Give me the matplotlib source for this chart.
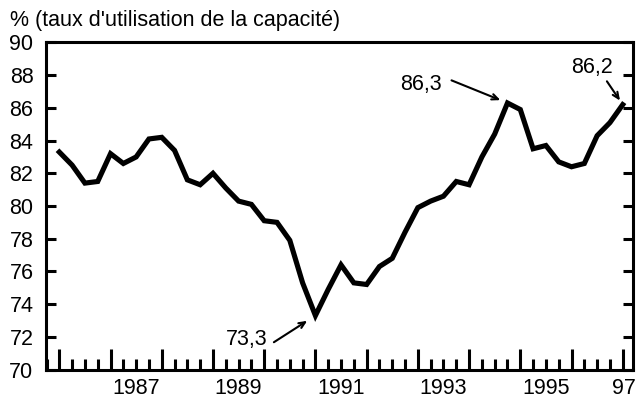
import matplotlib
matplotlib.use('Agg')
import matplotlib.pyplot as plt
from matplotlib.ticker import MultipleLocator
from matplotlib.transforms import blended_transform_factory

plt.rcParams['font.family'] = ['Liberation Sans', 'DejaVu Sans']

# Quarterly capacity utilisation, 1986Q1 - 1997Q1
start_year = 1986
values = [83.3, 82.5, 81.4, 81.5, 83.2, 82.6, 83.0, 84.1,
          84.2, 83.4, 81.6, 81.3, 82.0, 81.1, 80.3, 80.1,
          79.1, 79.0, 77.9, 75.3, 73.3, 74.9, 76.4, 75.3,
          75.2, 76.3, 76.8, 78.4, 79.9, 80.3, 80.6, 81.5,
          81.3, 83.0, 84.4, 86.3, 85.9, 83.5, 83.7, 82.7,
          82.4, 82.6, 84.3, 85.1, 86.2]
quarters = [start_year + i / 4 for i in range(len(values))]

year_labels = ['1987', '1989', '1991', '1993', '1995', '97']
year_label_pos = [1987.5, 1989.5, 1991.5, 1993.5, 1995.5, 1997.03]

# annotations: (index of point, label)
notes = [(20, '73,3'), (35, '86,3'), (44, '86,2')]

fs = 15.5

fig = plt.figure(figsize=(6.37, 4.15), dpi=100)
ax = fig.add_axes([0.0722, 0.1096, 0.9215, 0.788])

ax.plot(quarters, values, color='black', linewidth=3.7, solid_joinstyle='miter')

ax.set_xlim(1985.74, 1997.20)
ax.set_ylim(70, 90)

for s in ax.spines.values():
    s.set_linewidth(2.2)

ax.set_yticks(range(70, 91, 2))
ax.tick_params(axis='y', which='major', direction='in', length=7, width=2.2,
               left=True, right=True, labelsize=fs, pad=9)

ax.xaxis.set_major_locator(MultipleLocator(1))
ax.xaxis.set_minor_locator(MultipleLocator(0.25))
ax.tick_params(axis='x', which='major', direction='in', length=15, width=2.2, labelbottom=False)
ax.tick_params(axis='x', which='minor', direction='in', length=8, width=2.2)

trans = blended_transform_factory(ax.transData, ax.transAxes)
for pos, lab in zip(year_label_pos, year_labels):
    ax.text(pos, -0.026, lab, transform=trans, ha='center', va='top', fontsize=fs)

fig.text(10 / 637, 1 - 26 / 415, "% (taux d'utilisation de la capacité)",
         ha='left', va='baseline', fontsize=fs)

# annotation offsets in points: arrow start, text centre, shrink at the point
offsets = {'73,3': ((-29.9, -19.2), (-49.3, -17.3), 7),
           '86,3': ((-40.3, 16.3), (-62.0, 13.2), 5.5),
           '86,2': ((-11.4, 16.8), (-22.3, 27.0), 3.5)}
for idx, lab in notes:
    arrow_off, text_off, shrink = offsets[lab]
    xy = (quarters[idx], values[idx])
    ax.annotate('', xy=xy, xytext=arrow_off, textcoords='offset points',
                arrowprops=dict(arrowstyle='->,head_length=0.45,head_width=0.2',
                                color='black', lw=1.5, shrinkA=0, shrinkB=shrink))
    ax.annotate(lab, xy=xy, xytext=text_off, textcoords='offset points',
                ha='center', va='center', fontsize=fs)

fig.savefig('out.png', dpi=100)
